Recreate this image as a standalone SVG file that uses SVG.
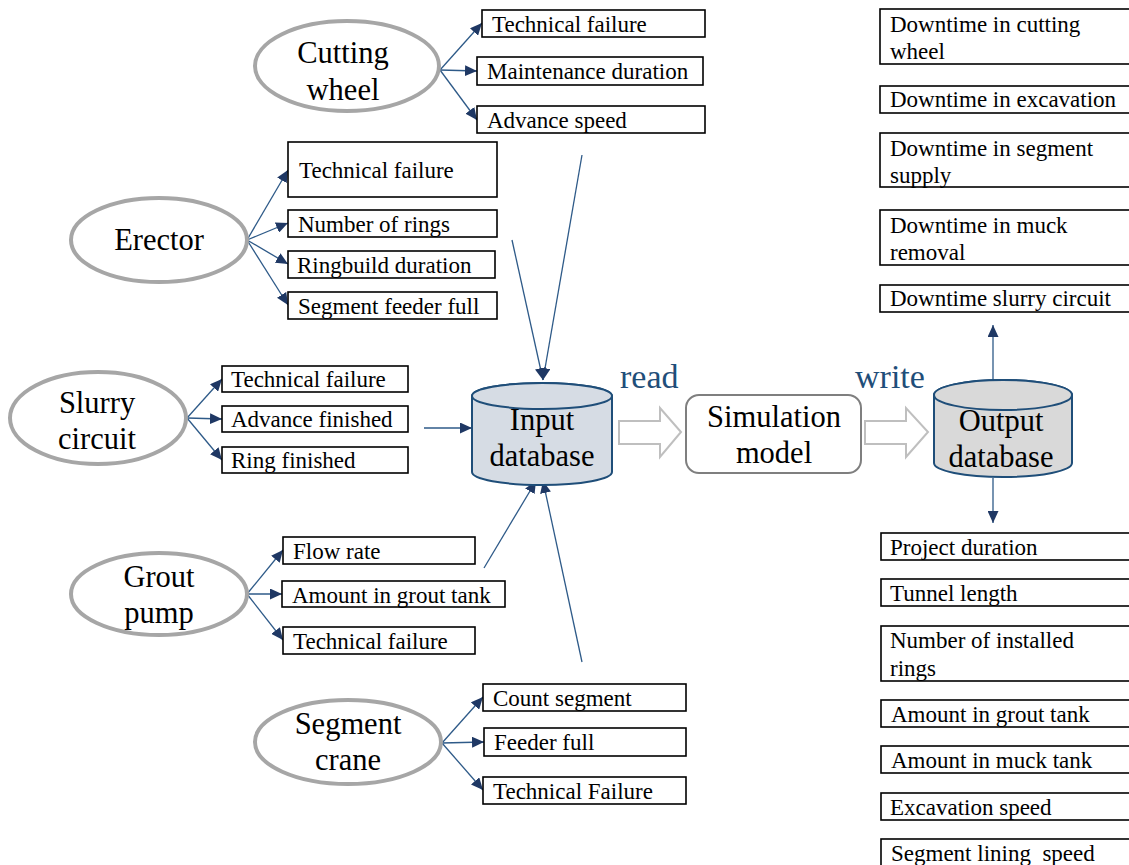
<svg xmlns="http://www.w3.org/2000/svg" width="1129" height="865" viewBox="0 0 1129 865" font-family="'Liberation Serif', 'DejaVu Serif', serif">
  <style>
    text { font-family: 'Liberation Serif', 'DejaVu Serif', serif; fill: #000; }
    .src { fill: #fff; stroke: #a6a6a6; stroke-width: 4; }
    .big { font-size: 30.5px; text-anchor: middle; }
    .box { fill: #fff; stroke: #000; stroke-width: 1.6; }
    .lbl { font-size: 23px; }
    .link { fill: none; stroke: #2e5a88; stroke-width: 1.3; marker-end: url(#head); }
    .db-in { fill: #d6dce4; stroke: #1f4e79; stroke-width: 2; }
    .db-out { fill: #d9d9d9; stroke: #1f4e79; stroke-width: 2; }
    .block { fill: #fff; stroke: #bfbfbf; stroke-width: 2; }
    .verb { font-size: 34px; fill: #1f4e79; }
  </style>
  <defs>
    <marker id="head" markerUnits="userSpaceOnUse" markerWidth="13" markerHeight="11" refX="12" refY="5.5" orient="auto">
      <path d="M0,0 L12,5.5 L0,11 Z" fill="#1f3864"/>
    </marker>
  </defs>

  <rect width="1129" height="865" fill="#fff"/>

  <!-- connectors -->
  <g id="connectors">
    <!-- cutting wheel -->
    <line class="link" x1="440" y1="70" x2="482" y2="23"/>
    <line class="link" x1="440" y1="70" x2="477" y2="71"/>
    <line class="link" x1="440" y1="70" x2="477" y2="120"/>
    <!-- erector -->
    <line class="link" x1="247" y1="240" x2="288" y2="170"/>
    <line class="link" x1="247" y1="240" x2="288" y2="223"/>
    <line class="link" x1="247" y1="240" x2="288" y2="264"/>
    <line class="link" x1="247" y1="240" x2="288" y2="305"/>
    <!-- slurry circuit -->
    <line class="link" x1="187" y1="418" x2="222" y2="379"/>
    <line class="link" x1="187" y1="418" x2="222" y2="419"/>
    <line class="link" x1="187" y1="418" x2="222" y2="460"/>
    <!-- grout pump -->
    <line class="link" x1="247" y1="594" x2="283" y2="550"/>
    <line class="link" x1="247" y1="594" x2="282" y2="594"/>
    <line class="link" x1="247" y1="594" x2="283" y2="640"/>
    <!-- segment crane -->
    <line class="link" x1="442" y1="743" x2="483" y2="697"/>
    <line class="link" x1="442" y1="743" x2="484" y2="742"/>
    <line class="link" x1="442" y1="743" x2="483" y2="790"/>
    <!-- into input database -->
    <line class="link" x1="582" y1="155" x2="543" y2="380"/>
    <line class="link" x1="512" y1="240" x2="543" y2="380"/>
    <line class="link" x1="424" y1="428" x2="472" y2="428"/>
    <line class="link" x1="484" y1="568" x2="536" y2="481"/>
    <line class="link" x1="582" y1="662" x2="543" y2="481"/>
    <!-- out of output database -->
    <line class="link" x1="993" y1="380" x2="993" y2="325"/>
    <line class="link" x1="993" y1="478" x2="993" y2="523"/>
    <!-- read / write block arrows -->
    <polygon class="block" points="619,421 660,421 660,408 681,432 660,457 660,444 619,444"/>
    <polygon class="block" points="865,421 906,421 906,408 928,432 906,457 906,444 865,444"/>
  </g>

  <text class="verb" x="620" y="388">read</text>
  <text class="verb" x="855" y="388">write</text>

  <!-- cutting wheel -->
  <g id="cutting-wheel">
    <ellipse class="src" cx="347" cy="66" rx="92" ry="45"/>
    <text class="big" x="343" y="63">Cutting</text>
    <text class="big" x="343" y="100">wheel</text>
  </g>
  <g id="cw-technical-failure"><rect class="box" x="482" y="10" width="223" height="27"/><text class="lbl" x="492" y="32">Technical failure</text></g>
  <g id="cw-maintenance-duration"><rect class="box" x="477" y="57" width="226" height="28"/><text class="lbl" x="487" y="79">Maintenance duration</text></g>
  <g id="cw-advance-speed"><rect class="box" x="477" y="106" width="228" height="27"/><text class="lbl" x="487" y="128">Advance speed</text></g>

  <!-- erector -->
  <g id="erector">
    <ellipse class="src" cx="159" cy="240" rx="88" ry="42"/>
    <text class="big" x="159" y="250">Erector</text>
  </g>
  <g id="er-technical-failure"><rect class="box" x="288" y="142" width="209" height="55"/><text class="lbl" x="299" y="178">Technical failure</text></g>
  <g id="er-number-of-rings"><rect class="box" x="288" y="210" width="209" height="27"/><text class="lbl" x="298" y="232">Number of rings</text></g>
  <g id="er-ringbuild-duration"><rect class="box" x="288" y="251" width="207" height="27"/><text class="lbl" x="297" y="273">Ringbuild duration</text></g>
  <g id="er-segment-feeder-full"><rect class="box" x="288" y="292" width="209" height="27"/><text class="lbl" x="298" y="314">Segment feeder full</text></g>

  <!-- slurry circuit -->
  <g id="slurry-circuit">
    <ellipse class="src" cx="98" cy="418" rx="88" ry="46"/>
    <text class="big" x="97" y="413">Slurry</text>
    <text class="big" x="97" y="449">circuit</text>
  </g>
  <g id="sc-technical-failure"><rect class="box" x="222" y="366" width="186" height="26"/><text class="lbl" x="231" y="387">Technical failure</text></g>
  <g id="sc-advance-finished"><rect class="box" x="222" y="406" width="186" height="26"/><text class="lbl" x="231" y="427">Advance finished</text></g>
  <g id="sc-ring-finished"><rect class="box" x="222" y="447" width="186" height="26"/><text class="lbl" x="231" y="468">Ring finished</text></g>

  <!-- grout pump -->
  <g id="grout-pump">
    <ellipse class="src" cx="159" cy="594" rx="88" ry="41"/>
    <text class="big" x="159" y="587">Grout</text>
    <text class="big" x="159" y="623">pump</text>
  </g>
  <g id="gp-flow-rate"><rect class="box" x="283" y="537" width="192" height="27"/><text class="lbl" x="293" y="559">Flow rate</text></g>
  <g id="gp-amount-in-grout-tank"><rect class="box" x="282" y="581" width="223" height="26"/><text class="lbl" x="292" y="603">Amount in grout tank</text></g>
  <g id="gp-technical-failure"><rect class="box" x="283" y="627" width="192" height="27"/><text class="lbl" x="293" y="649">Technical failure</text></g>

  <!-- segment crane -->
  <g id="segment-crane">
    <ellipse class="src" cx="348" cy="742" rx="93" ry="42"/>
    <text class="big" x="348" y="734">Segment</text>
    <text class="big" x="348" y="770">crane</text>
  </g>
  <g id="sg-count-segment"><rect class="box" x="483" y="684" width="203" height="27"/><text class="lbl" x="493" y="706">Count segment</text></g>
  <g id="sg-feeder-full"><rect class="box" x="484" y="728" width="202" height="28"/><text class="lbl" x="494" y="750">Feeder full</text></g>
  <g id="sg-technical-failure"><rect class="box" x="483" y="777" width="203" height="27"/><text class="lbl" x="493" y="799">Technical Failure</text></g>

  <!-- input database -->
  <g id="input-database">
    <path class="db-in" d="M472,396 L472,472 A70,13 0 0 0 612,472 L612,396 A70,13 0 0 0 472,396 Z"/>
    <ellipse class="db-in" cx="542" cy="396" rx="70" ry="13"/>
    <text class="big" x="542" y="430">Input</text>
    <text class="big" x="542" y="466">database</text>
  </g>

  <!-- simulation model -->
  <g id="simulation-model">
    <rect x="686" y="395" width="175" height="78" rx="13" fill="#fff" stroke="#7f7f7f" stroke-width="2"/>
    <text class="big" x="774" y="427">Simulation</text>
    <text class="big" x="774" y="463">model</text>
  </g>

  <!-- output database -->
  <g id="output-database">
    <path class="db-out" d="M934,395 L934,463 A69,14 0 0 0 1072,463 L1072,395 A69,15 0 0 0 934,395 Z"/>
    <ellipse class="db-out" cx="1003" cy="395" rx="69" ry="15"/>
    <text class="big" x="1001" y="431">Output</text>
    <text class="big" x="1001" y="467">database</text>
  </g>

  <!-- downtime outputs -->
  <g id="out-downtime-cutting-wheel"><rect class="box" x="880" y="9" width="260" height="55"/><text class="lbl" x="890" y="32">Downtime in cutting</text><text class="lbl" x="890" y="59">wheel</text></g>
  <g id="out-downtime-excavation"><rect class="box" x="880" y="86" width="260" height="27"/><text class="lbl" x="890" y="107">Downtime in excavation</text></g>
  <g id="out-downtime-segment-supply"><rect class="box" x="880" y="133" width="260" height="54"/><text class="lbl" x="890" y="156">Downtime in segment</text><text class="lbl" x="890" y="183">supply</text></g>
  <g id="out-downtime-muck-removal"><rect class="box" x="880" y="210" width="260" height="55"/><text class="lbl" x="890" y="233">Downtime in muck</text><text class="lbl" x="890" y="260">removal</text></g>
  <g id="out-downtime-slurry-circuit"><rect class="box" x="880" y="285" width="260" height="27"/><text class="lbl" x="890" y="306">Downtime slurry circuit</text></g>

  <!-- result outputs -->
  <g id="out-project-duration"><rect class="box" x="881" y="533" width="260" height="27"/><text class="lbl" x="890" y="555">Project duration</text></g>
  <g id="out-tunnel-length"><rect class="box" x="881" y="579" width="260" height="27"/><text class="lbl" x="890" y="601">Tunnel length</text></g>
  <g id="out-installed-rings"><rect class="box" x="881" y="626" width="260" height="55"/><text class="lbl" x="890" y="648">Number of installed</text><text class="lbl" x="890" y="676">rings</text></g>
  <g id="out-grout-tank"><rect class="box" x="881" y="700" width="260" height="27"/><text class="lbl" x="891" y="722">Amount in grout tank</text></g>
  <g id="out-muck-tank"><rect class="box" x="881" y="746" width="260" height="27"/><text class="lbl" x="891" y="768">Amount in muck tank</text></g>
  <g id="out-excavation-speed"><rect class="box" x="881" y="793" width="260" height="27"/><text class="lbl" x="890" y="815">Excavation speed</text></g>
  <g id="out-lining-speed"><rect class="box" x="881" y="839" width="260" height="40"/><text class="lbl" x="891" y="861" style="white-space:pre">Segment lining  speed</text></g>
</svg>
